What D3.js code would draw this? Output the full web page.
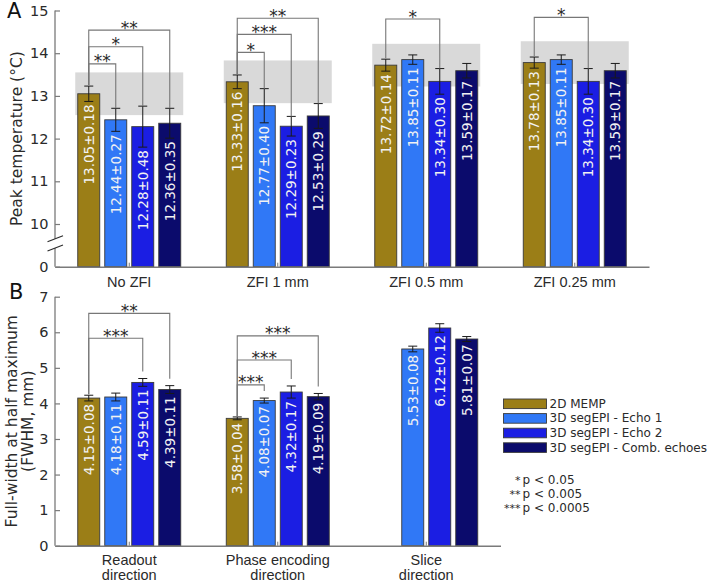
<!DOCTYPE html>
<html><head><meta charset="utf-8">
<script src="https://cdn.jsdelivr.net/npm/d3@7"></script>
<style>body{margin:0;background:#fff} svg{display:block;font-family:"DejaVu Sans",sans-serif}</style>
</head><body><svg id="c" width="709" height="583"></svg>
<script>
// ---------- data ----------
const seriesNames = ["2D MEMP", "3D segEPI - Echo 1", "3D segEPI - Echo 2", "3D segEPI - Comb. echoes"];
const seriesColors = ["#9b7e17", "#3078f6", "#1b1ee3", "#0b0b6c"];

const groupsA = ["No ZFI", "ZFI 1 mm", "ZFI 0.5 mm", "ZFI 0.25 mm"];
const peakMean = [[13.05, 12.44, 12.28, 12.36], [13.33, 12.77, 12.29, 12.53], [13.72, 13.85, 13.34, 13.59], [13.78, 13.85, 13.34, 13.59]];
const peakErr  = [[0.18, 0.27, 0.48, 0.35], [0.16, 0.40, 0.23, 0.29], [0.14, 0.11, 0.30, 0.17], [0.13, 0.11, 0.30, 0.17]];
const peakBand = 0.5;                       // grey band: 2D MEMP mean ± 0.5 °C
const peakTicks = [0, 10, 11, 12, 13, 14, 15];
// [group, compared series, label, bracket height (°C)]
const peakBrackets = [[0, 1, "**", 13.75], [0, 2, "*", 14.15], [0, 3, "**", 14.54],
                      [1, 1, "*", 14.02], [1, 2, "***", 14.44], [1, 3, "**", 14.82],
                      [2, 2, "*", 14.80], [3, 2, "*", 14.84]];

const groupsB = [["Readout", "direction"], ["Phase encoding", "direction"], ["Slice", "direction"]];
const fwhmMean = [[4.15, 4.18, 4.59, 4.39], [3.58, 4.08, 4.32, 4.19], [null, 5.53, 6.12, 5.81]];
const fwhmErr  = [[0.08, 0.11, 0.11, 0.11], [0.04, 0.07, 0.17, 0.09], [null, 0.08, 0.12, 0.07]];
const fwhmTicks = [0, 1, 2, 3, 4, 5, 6, 7];
const fwhmBrackets = [[0, 2, "***", 5.83], [0, 3, "**", 6.53],
                      [1, 1, "***", 4.52], [1, 2, "***", 5.22], [1, 3, "***", 5.90]];

const pLegend = [["*", "p < 0.05"], ["**", "p < 0.005"], ["***", "p < 0.0005"]];

// ---------- drawing ----------
const svg = d3.select("#c");
const AXIS = "#7a7a7a", TXT = "#2a2a2a", fmt = d3.format(".2f");
const slot = d3.scalePoint().domain([0, 1, 2, 3]).range([-40.5, 40.5]);
const BW = 22;

function panel(o) {
  const g = svg.append("g");
  const x = d3.scaleBand().domain(o.groups.map((d, i) => i)).range(o.xr);
  const y = o.y;
  const cx = (gi, si) => x(gi) + x.bandwidth() / 2 + slot(si);

  // grey reference bands
  if (o.band) {
    o.mean.forEach((row, gi) => {
      g.append("rect").attr("x", x(gi) + x.bandwidth() / 2 - 54).attr("width", 108)
        .attr("y", y(row[0] + o.band)).attr("height", y(row[0] - o.band) - y(row[0] + o.band))
        .attr("fill", "#d9d9d9");
    });
  }
  // bars
  const cells = [];
  o.mean.forEach((row, gi) => row.forEach((v, si) => { if (v != null) cells.push({gi, si, v, e: o.err[gi][si]}); }));
  g.selectAll(".bar").data(cells).join("rect")
    .attr("x", d => cx(d.gi, d.si) - BW / 2).attr("width", BW)
    .attr("y", d => y(d.v)).attr("height", d => y(0) - y(d.v))
    .attr("fill", d => seriesColors[d.si]).attr("stroke", "#3a3a3a").attr("stroke-width", 0.9);
  // error bars
  const eb = g.selectAll(".eb").data(cells).join("g").attr("stroke", "#1a1a1a").attr("stroke-width", 1);
  eb.append("line").attr("x1", d => cx(d.gi, d.si)).attr("x2", d => cx(d.gi, d.si))
    .attr("y1", d => y(d.v - d.e)).attr("y2", d => y(d.v + d.e));
  eb.append("line").attr("x1", d => cx(d.gi, d.si) - 4.5).attr("x2", d => cx(d.gi, d.si) + 4.5)
    .attr("y1", d => y(d.v + d.e)).attr("y2", d => y(d.v + d.e));
  eb.append("line").attr("x1", d => cx(d.gi, d.si) - 4.5).attr("x2", d => cx(d.gi, d.si) + 4.5)
    .attr("y1", d => y(d.v - d.e)).attr("y2", d => y(d.v - d.e));
  // value labels
  g.selectAll(".vl").data(cells).join("text")
    .attr("transform", d => `translate(${cx(d.gi, d.si)},${y(d.v - d.e) + 3}) rotate(-90)`)
    .attr("text-anchor", "end").attr("dominant-baseline", "central")
    .attr("font-size", 13.5).attr("fill", "#f2f2f2")
    .text(d => fmt(d.v) + "±" + fmt(d.e));
  // significance brackets
  o.brackets.forEach(([gi, sj, lab, h]) => {
    const xl = cx(gi, 0), xr = cx(gi, sj), yb = y(h);
    const yl = y(o.mean[gi][0] + o.err[gi][0]) - 1;
    const yr = y(o.mean[gi][sj] + o.err[gi][sj]) - o.gap;
    g.append("path").attr("d", `M${xl},${yl}V${yb}H${xr}V${yr}`)
      .attr("fill", "none").attr("stroke", "#777").attr("stroke-width", 1.1);
    g.append("text").attr("x", (xl + xr) / 2).attr("y", yb + 3.5).attr("text-anchor", "middle")
      .attr("font-size", 17).attr("fill", TXT).text(lab);
  });
  // y axis
  const ya = g.append("g").attr("transform", `translate(${o.xr[0]},0)`)
    .call(d3.axisLeft(y).tickValues(o.ticks).tickSize(-5).tickPadding(6.5).tickFormat(d3.format("d")));
  ya.select(".domain").remove();
  ya.selectAll("line").attr("stroke", AXIS).attr("stroke-width", 1.2);
  ya.selectAll("text").attr("font-size", 14.5).attr("fill", TXT).attr("font-family", "DejaVu Sans");
  const top = y(o.ticks[o.ticks.length - 1]), bot = y(0);
  if (o.brk) {
    const [b1, b2] = o.brk;
    ya.append("path").attr("d", `M0,${top}V${b1}M0,${b2}V${bot}`).attr("stroke", AXIS).attr("stroke-width", 1.3).attr("fill", "none");
    [b1, b2].forEach(b => ya.append("line").attr("x1", -7.5).attr("x2", 8).attr("y1", b + 3).attr("y2", b - 3)
      .attr("stroke", TXT).attr("stroke-width", 1.1));
  } else {
    ya.append("path").attr("d", `M0,${top}V${bot}`).attr("stroke", AXIS).attr("stroke-width", 1.3);
  }
  // x axis
  const xa = g.append("g").attr("transform", `translate(0,${bot})`)
    .call(d3.axisBottom(x).tickSize(-4).tickSizeOuter(0).tickPadding(0).tickFormat(""));
  xa.select(".domain").attr("stroke", AXIS).attr("stroke-width", 1.5);
  xa.selectAll(".tick line").attr("stroke", AXIS);
  xa.selectAll(".tick").each(function (d) {
    const lines = [].concat(o.groups[d]);
    lines.forEach((t, k) => d3.select(this).append("text").attr("y", o.labY + k * 15)
      .attr("text-anchor", "middle").attr("font-size", 14.5).attr("fill", TXT).text(t));
  });
  // y label
  const cy = (top + bot) / 2;
  o.ylab.forEach((t, k) => g.append("text")
    .attr("transform", `translate(${o.ylabX + k * 16.7},${cy}) rotate(-90)`)
    .attr("text-anchor", "middle").attr("dominant-baseline", "central")
    .attr("font-size", 15.5).attr("fill", TXT).text(t));
  // panel letter
  g.append("text").attr("x", o.letter[1]).attr("y", o.letter[2]).attr("font-size", 21)
    .attr("fill", "#111").text(o.letter[0]);
}

panel({
  groups: groupsA, mean: peakMean, err: peakErr, band: peakBand, ticks: peakTicks, brackets: peakBrackets,
  xr: [55, 649], y: d3.scaleLinear().domain([0, 10, 15]).range([266.7, 224, 10.5]),
  gap: 0, brk: [238.7, 248], labY: 20, ylab: ["Peak temperature (°C)"], ylabX: 17, letter: ["A", 7, 18]
});
panel({
  groups: groupsB, mean: fwhmMean, err: fwhmErr, band: null, ticks: fwhmTicks, brackets: fwhmBrackets,
  xr: [55, 500.5], y: d3.scaleLinear().domain([0, 7]).range([545.7, 296.7]),
  gap: 7, brk: null, labY: 19.5, ylab: ["Full-width at half maximum", "(FWHM, mm)"], ylabX: 11.5, letter: ["B", 9, 298.5]
});

// series legend
const lg = svg.append("g").attr("transform", "translate(503.5,399)");
seriesNames.forEach((n, i) => {
  const r = lg.append("g").attr("transform", `translate(0,${i * 14.6})`);
  r.append("rect").attr("width", 43).attr("height", 9.6).attr("fill", seriesColors[i]).attr("stroke", "#3a3a3a").attr("stroke-width", 0.9);
  r.append("text").attr("x", 46).attr("y", 4.8).attr("dominant-baseline", "central").attr("font-size", 12).attr("fill", TXT).text(n);
});
// p-value legend
pLegend.forEach(([s, t], i) => {
  svg.append("text").attr("x", 520.5).attr("y", 484 + i * 14).attr("text-anchor", "end").attr("font-size", 11).attr("fill", TXT).text(s);
  svg.append("text").attr("x", 522.5).attr("y", 484 + i * 14).attr("font-size", 12).attr("fill", TXT).text(t);
});
</script></body></html>
